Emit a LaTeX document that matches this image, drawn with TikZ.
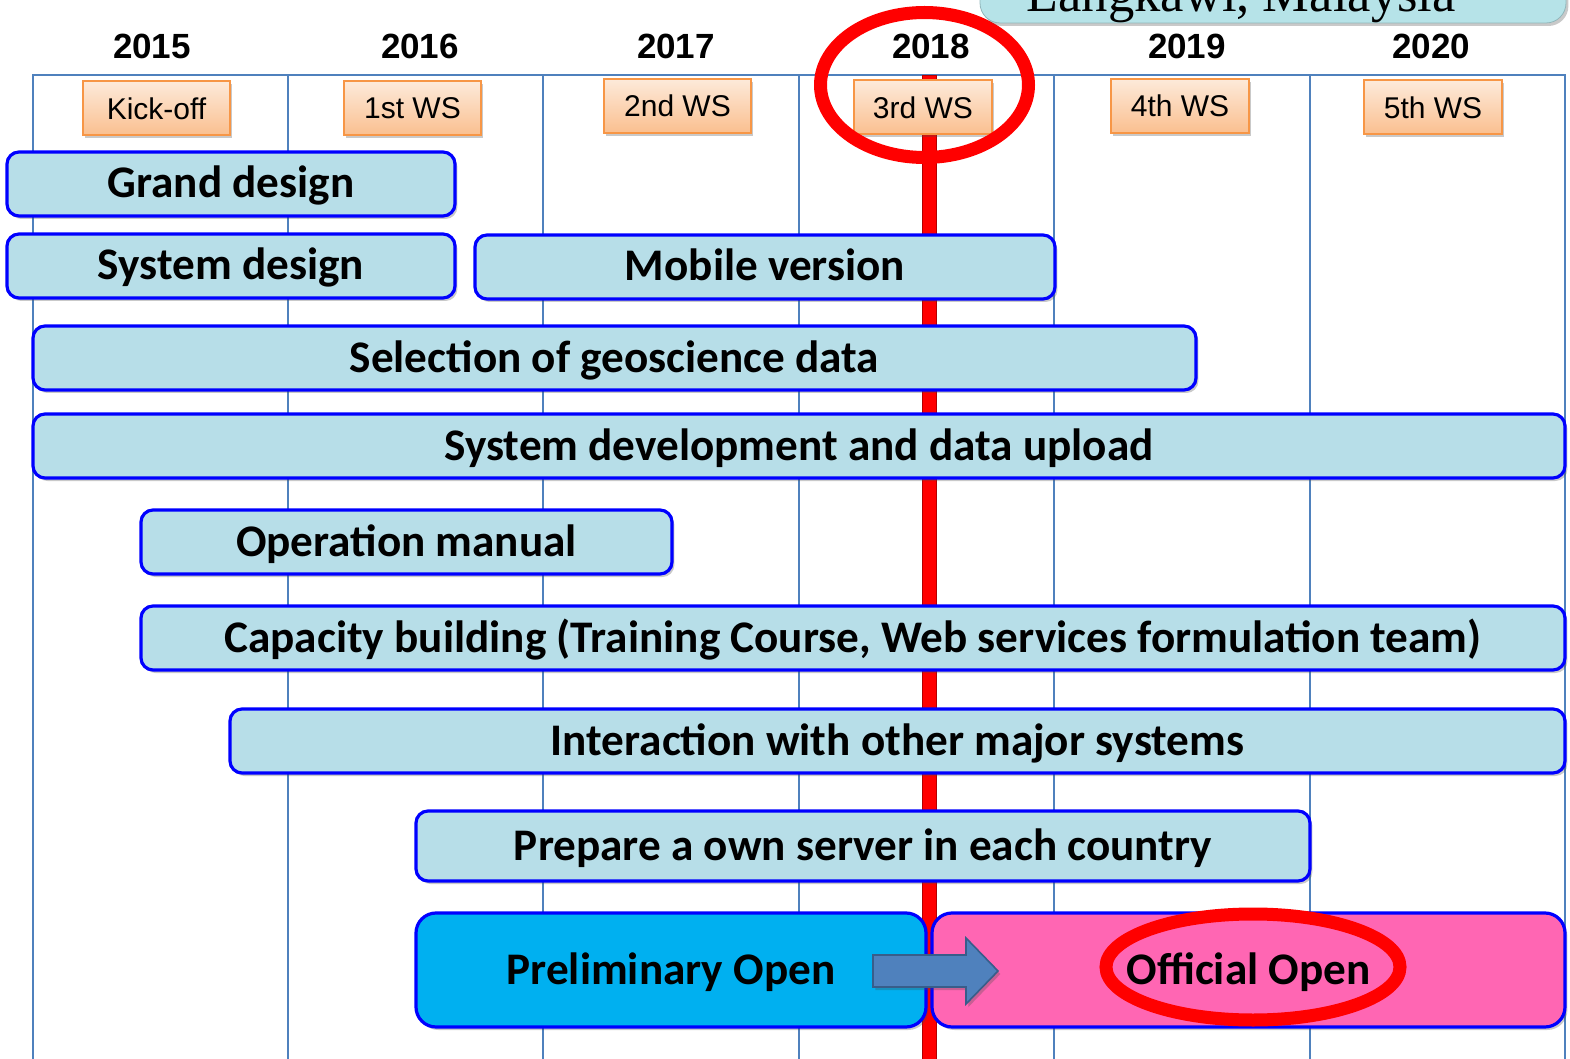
\documentclass[tikz,border=0pt]{standalone}
\usepackage{fontspec}
\setmainfont{Liberation Sans}
\newfontfamily\calibrifont{Carlito}
\newfontfamily\timesfont{Liberation Serif}
\usetikzlibrary{shadows}

\definecolor{gridblue}{RGB}{79,129,189}
\definecolor{barfill}{RGB}{183,222,232}
\definecolor{barline}{RGB}{0,0,255}
\definecolor{wsline}{RGB}{247,150,70}
\definecolor{wstop}{RGB}{253,234,218}
\definecolor{wsbottom}{RGB}{250,191,143}
\definecolor{prelimfill}{RGB}{0,176,240}
\definecolor{officialfill}{RGB}{255,102,179}
\definecolor{arrowfill}{RGB}{79,129,189}
\definecolor{arrowline}{RGB}{56,93,138}
\definecolor{venuefill}{RGB}{182,227,232}
\definecolor{markred}{RGB}{255,0,0}

\begin{document}
\begin{tikzpicture}[x=0.5pt, y=-0.5pt,
    grid/.style={gridblue, line width=0.8pt},
    softshadow/.style={drop shadow={shadow xshift=1.2pt, shadow yshift=-1.5pt, opacity=0.3, fill=black!70}},
    yearlbl/.style={font=\fontsize{17.5}{20}\selectfont\bfseries, inner sep=0pt},
    wsbox/.style={draw=wsline, line width=1pt, top color=wstop, bottom color=wsbottom, softshadow,
        minimum height=27pt, inner sep=0pt, font=\fontsize{15}{18}\selectfont},
    bar/.style={draw=barline, line width=1.6pt, fill=#1, rounded corners=6pt, softshadow,
        minimum height=32pt, inner sep=0pt, text height=15pt, text depth=1pt,
        font=\calibrifont\fontsize{22.6}{26}\selectfont\bfseries},
    bar/.default=barfill,
    redring/.style={markred, line width=6.5pt}]

    \clip (0,0) rectangle (1570,1059);

    % year grid
    \draw[grid] (33,1059) -- (33,75) -- (1565,75) -- (1565,1059);
    \foreach \gx in {288,543,799,1054,1310}
        \draw[grid] (\gx,75) -- (\gx,1059);

    % now line
    \draw[fill=markred, draw=markred!70!black, line width=0.5pt] (922.5,76) rectangle (936,1059);

    % years and workshops
    \foreach \yr/\xx in {2015/152,2016/420,2017/676,2018/931,2019/1187,2020/1431}
        \node[yearlbl] (y\yr) at (\xx,46) {\yr};

    \node[wsbox, minimum width=73.5pt] (ws0) at (156.5,108.5) {Kick-off};
    \node[wsbox, minimum width=68.5pt] (ws1) at (412.5,108.5) {1st WS};
    \node[wsbox, minimum width=73.5pt] (ws2) at (677.5,106) {2nd WS};
    \node[wsbox, minimum width=69pt] (ws3) at (923,107.5) {3rd WS};
    \node[wsbox, minimum width=69pt] (ws4) at (1180,106) {4th WS};
    \node[wsbox, minimum width=69pt] (ws5) at (1433,107.5) {5th WS};

    % tasks
    \node[bar, minimum width=224pt] (grand) at (231,184) {Grand design};
    \node[bar, minimum width=224pt] (sysdesign) at (231,266) {System design};
    \node[bar, minimum width=290pt] (mobile) at (765,267) {Mobile version};
    \node[bar, minimum width=581.5pt] (selection) at (614.5,358) {Selection of geoscience data};
    \node[bar, minimum width=766pt] (sysdev) at (799,446) {System development and data upload};
    \node[bar, minimum width=265.5pt] (manual) at (406.5,542) {Operation manual};
    \node[bar, minimum width=712pt] (capacity) at (853,638) {Capacity building (Training Course, Web services formulation team)};
    \node[bar, minimum width=667.5pt] (interact) at (897.5,741) {Interaction with other major systems};
    \node[bar, minimum width=447pt, minimum height=35pt] (server) at (863,846) {Prepare a own server in each country};

    \node[bar=prelimfill, minimum width=255pt, minimum height=57pt, rounded corners=10pt] (prelim) at (671,970) {Preliminary Open};
    \node[bar=officialfill, minimum width=316.5pt, minimum height=57pt, rounded corners=10pt] (official) at (1248.5,970) {Official Open};

    \draw[fill=arrowfill, draw=arrowline, line width=0.8pt, softshadow]
        (873,955) -- (966,955) -- (966,938) -- (998,971) -- (966,1004) -- (966,987) -- (873,987) -- cycle;

    % highlights
    \draw[redring] (924.5,85) ellipse [x radius=104, y radius=72.5];
    \draw[redring] (1253,967) ellipse [x radius=147, y radius=53];

    % venue callout
    \draw[fill=venuefill, draw=venuefill!80!black, line width=0.4pt, rounded corners=10pt, softshadow]
        (980,-40) rectangle (1566,23);
    \node[anchor=base, inner sep=0pt, font=\timesfont\fontsize{26.3}{30}\selectfont] (venue) at (1241,12) {Langkawi, Malaysia};
\end{tikzpicture}
\end{document}
